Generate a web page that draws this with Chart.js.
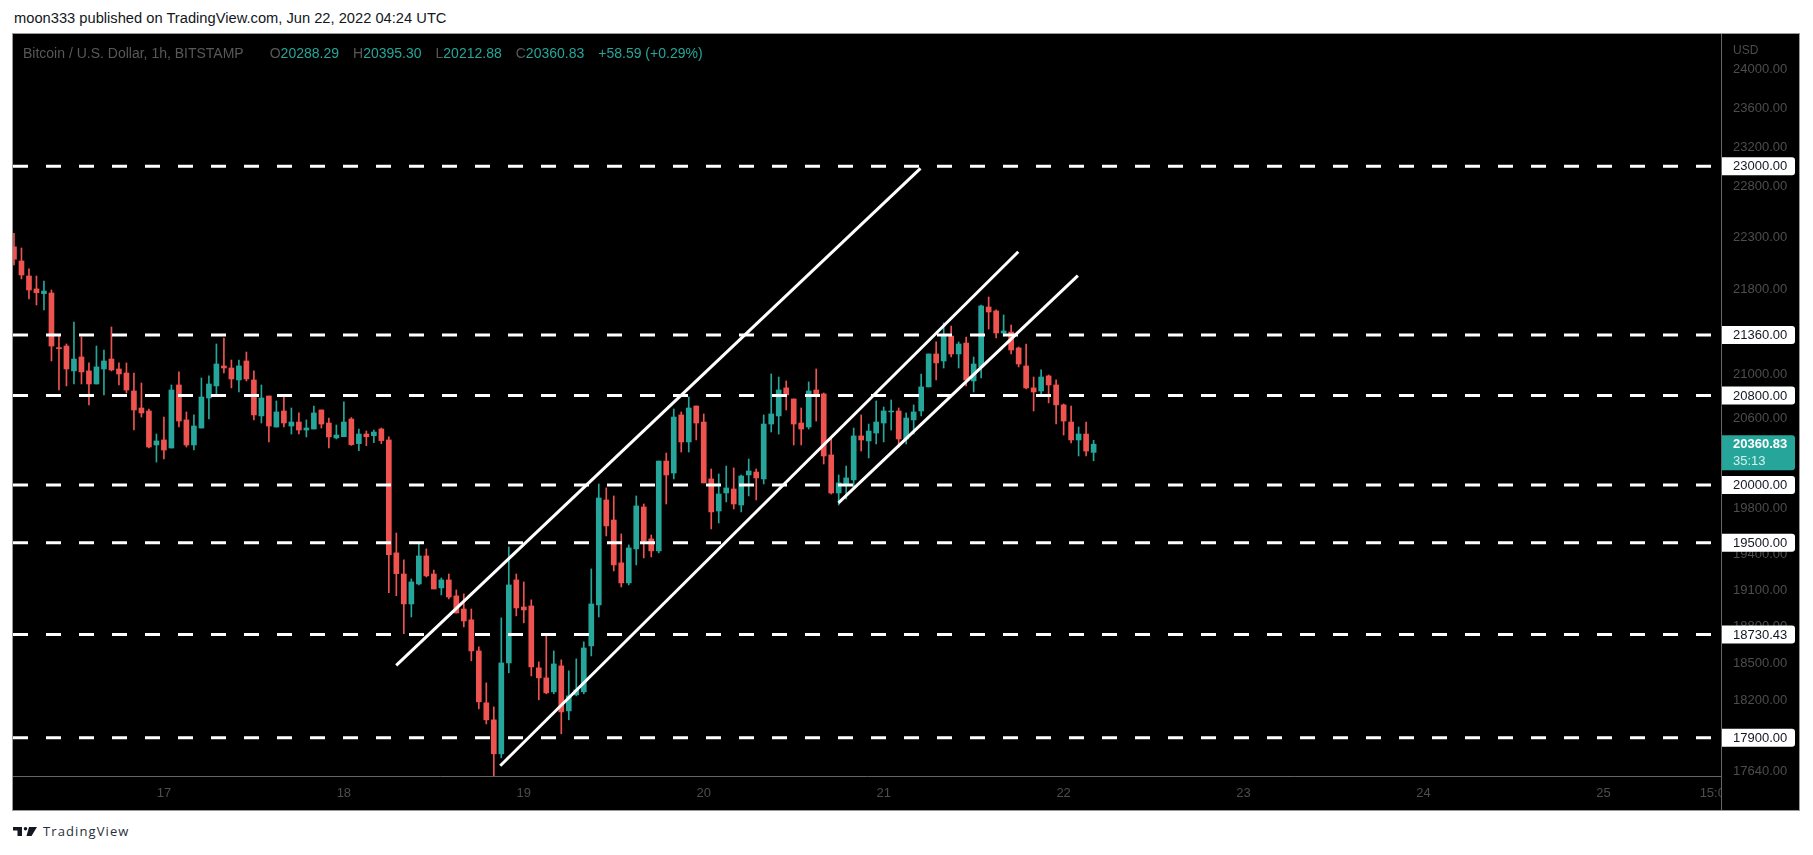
<!DOCTYPE html>
<html>
<head>
<meta charset="utf-8">
<script src="https://cdn.jsdelivr.net/npm/chart.js@4.4.0/dist/chart.umd.min.js"></script>
<style>
  html, body { margin: 0; padding: 0; background: #fff; width: 1813px; height: 855px; overflow: hidden;
    font-family: "Liberation Sans", Arial, sans-serif; }
  #head { position: absolute; left: 14px; top: 10px; font-size: 14.7px; color: #131722; white-space: nowrap; }
  #box { position: absolute; left: 12px; top: 33px; width: 1786px; height: 776px; border: 1px solid #9a9a9a; background: #000; }
  #box canvas { display: block; }
  #legend { position: absolute; left: 23px; top: 45px; font-size: 14px; color: #585858; white-space: nowrap; }
  #legend .v { color: #26a69a; }
  #legend .g { margin-left: 14px; }
  #legend .g0 { margin-left: 26px; }
  #foot { position: absolute; left: 13px; top: 823px; height: 16px; display: flex; align-items: center; }
  #foot span { font-family: "Open Sans", sans-serif; font-size: 13px; letter-spacing: 1.1px; color: #2a2e39; margin-left: 6px; }
</style>
</head>
<body>
<div id="head">moon333 published on TradingView.com, Jun 22, 2022 04:24 UTC</div>
<div id="box"><canvas id="btc" width="1786" height="776"></canvas></div>
<div id="legend">Bitcoin / U.S. Dollar, 1h, BITSTAMP<span class="g0">O<span class="v">20288.29</span></span><span class="g">H<span class="v">20395.30</span></span><span class="g">L<span class="v">20212.88</span></span><span class="g">C<span class="v">20360.83</span></span><span class="g v">+58.59 (+0.29%)</span></div>
<div id="foot">
  <svg width="24" height="9" viewBox="0 0 24 9">
    <rect x="0" y="0" width="9" height="3.5" fill="#131722"/>
    <rect x="4.5" y="0" width="4.5" height="9" fill="#131722"/>
    <circle cx="12.5" cy="1.8" r="1.8" fill="#131722"/>
    <polygon points="16,0 24,0 18.5,9 13.5,9" fill="#131722"/>
  </svg>
  <span>TradingView</span>
</div>
<script>
// hourly candles, first one = Jun 16 04:00 (hours counted from Jun 17 00:00)
const firstHour = -20;
const opens = [22203,22065,21920,21796,21751,21757,21242,21257,21026,21155,
  21026,20906,21044,21136,21044,21007,20842,20687,20660,20354,
  20399,20327,20897,20579,20354,20506,20778,20888,21072,21053,
  20943,21118,20943,20615,20796,20515,20660,20524,20560,20488,
  20497,20669,20551,20417,20428,20587,20366,20452,20437,20497,
  20399,19413,19234,18983,19150,19387,19234,19117,19184,19050,
  18941,18851,18596,18177,18042,17775,18498,19184,18958,18966,
  18458,18377,18265,18474,18113,18241,18265,18637,18975,19869,
  19695,19328,19159,19447,19808,19532,19430,20211,20105,20624,
  20381,20705,20560,20053,19773,19930,19965,19825,20088,20114,
  20053,20542,20615,20870,20769,20551,20515,20851,20815,20265,
  19930,20009,20044,20435,20390,20461,20551,20651,20660,20408,
  20579,20660,20879,21183,21118,21350,21183,21285,20934,21063,
  21624,21587,21379,21388,21239,21072,20870,20842,20980,20897,
  20715,20560,20399,20452,20288.29];
const highs = [22335,22191,21988,21920,21872,21786,21353,21276,21482,21341,
  21100,21257,21220,21435,21100,21100,21007,20915,20678,20452,
  20605,20897,21017,20651,20624,20961,20980,21276,21332,21127,
  21127,21201,21026,20897,20796,20751,20796,20687,20642,20579,
  20705,20669,20596,20533,20742,20600,20497,20479,20488,20506,
  20426,19583,19353,19192,19506,19447,19268,19201,19234,19100,
  19067,18941,18629,18337,18145,18867,19464,19234,19167,19017,
  18506,18735,18596,18523,18434,18531,18670,19277,20009,19974,
  19904,19575,19481,19904,19834,19566,20211,20282,20678,20651,
  20787,20705,20633,20141,20097,20167,20150,20088,20229,20141,
  20624,20998,20970,20934,20769,20687,20925,21044,20824,20426,
  20088,20167,20506,20624,20542,20751,20696,20760,20687,20642,
  20715,20998,21183,21295,21473,21444,21295,21341,21155,21643,
  21719,21596,21549,21454,21248,21276,20970,21035,20989,20943,
  20724,20705,20515,20560,20395.30];
const lows = [22027,21892,21700,21643,21596,21118,20851,20888,20906,20906,
  20715,20906,20806,21026,20897,20824,20488,20605,20327,20202,
  20229,20327,20515,20336,20309,20506,20587,20806,21007,20870,
  20833,20934,20579,20551,20381,20515,20515,20452,20452,20426,
  20497,20506,20327,20408,20428,20350,20303,20348,20375,20366,
  19077,19052,18738,18875,19142,19209,19108,19058,19025,18908,
  18793,18515,18129,18010,17600,17744,18418,18884,18826,18393,
  18201,18249,18249,17932,18042,18233,18249,18555,18875,19558,
  19260,19125,19142,19311,19370,19379,19413,19834,20053,20291,
  20291,20399,20018,19618,19669,19852,19791,19765,19904,19869,
  20009,20470,20452,20669,20354,20354,20497,20569,20185,19921,
  19825,19878,19982,20300,20238,20363,20381,20488,20336,20363,
  20452,20615,20879,20943,21053,21155,21053,20888,20833,20961,
  21416,21332,21350,21183,21063,20860,20660,20815,20733,20542,
  20443,20372,20256,20256,20212.88];
const closes = [22082,21930,21786,21760,21776,21257,21232,21044,21136,21017,
  20906,21063,21118,21035,20998,20851,20669,20642,20336,20390,
  20309,20851,20569,20354,20524,20787,20906,21090,21053,20952,
  21072,20952,20624,20778,20524,20651,20551,20560,20488,20506,
  20642,20542,20426,20443,20560,20357,20452,20428,20470,20393,
  19398,19237,18983,19167,19387,19218,19108,19184,19041,18908,
  18842,18596,18185,18042,17775,18498,19142,18950,18933,18466,
  18377,18257,18490,18105,18233,18281,18620,18983,19886,19644,
  19311,19159,19455,19817,19515,19430,20211,20088,20605,20381,
  20687,20551,20018,19765,19921,19974,19834,20079,20123,20062,
  20542,20633,20851,20806,20542,20497,20842,20806,20256,19930,
  20018,20062,20435,20399,20479,20560,20660,20660,20408,20596,
  20651,20879,21183,21100,21350,21183,21276,20943,21090,21634,
  21577,21379,21398,21220,21090,20870,20833,20970,20897,20715,
  20569,20399,20452,20300,20360.83];

// horizontal support / resistance levels
const levels = [23000, 21360, 20800, 20000, 19500, 18730.43, 17900];
// the three drawn channel lines: [start, end] in hours and price
const channelHours = [[30.98, 100.91], [44.86, 113.95], [89.97, 121.90]];
const channelPrices = [[18478, 22980], [17682, 22155], [19843, 21923]];

const priceTicks = [24000, 23600, 23200, 22800, 22300, 21800, 21000, 20600, 19800, 19400, 19100, 18800, 18500, 18200, 17640];
const timeTicks = [0, 24, 48, 72, 96, 120, 144, 168, 192, 207];
const timeLabels = ['17', '18', '19', '20', '21', '22', '23', '24', '25', '15:00'];
const lastPrice = 20360.83;
const countdown = '35:13';

const xMin = -20.13, xMax = 207.68;
const yMin = 17603, yMax = 24375;

const upColor = '#26a69a', downColor = '#ef5350';
const textGray = '#4d4d4d', axisGray = '#666666';
const font = '"Liberation Sans", Arial, sans-serif';

const candleHours = opens.map((_, i) => firstHour + i);
const bodies = opens.map((o, i) => ({ x: candleHours[i], y: [o, closes[i]] }));
const wicks = lows.map((l, i) => ({ x: candleHours[i], y: [l, highs[i]] }));
const candleColor = c => closes[c.dataIndex] >= opens[c.dataIndex] ? upColor : downColor;

const levelSets = levels.map(v => ({
  type: 'line',
  data: [{ x: xMin, y: v }, { x: xMax, y: v }],
  borderColor: '#ffffff', borderWidth: 3, borderDash: [15, 18],
  pointRadius: 0, pointHoverRadius: 0, order: 2
}));
const channelSets = channelHours.map((h, k) => ({
  type: 'line',
  data: [{ x: h[0], y: channelPrices[k][0] }, { x: h[1], y: channelPrices[k][1] }],
  borderColor: '#ffffff', borderWidth: 3, pointRadius: 0, pointHoverRadius: 0, order: 1
}));

// price scale labels, level tags and the last price tag
const priceScale = {
  id: 'priceScale',
  afterDraw(chart) {
    const { ctx, chartArea: a, scales: { y } } = chart;
    const tx = a.right + 12;
    ctx.save();
    // hide the part of the time axis under the price scale
    ctx.fillStyle = '#000';
    ctx.fillRect(a.right + 1, a.bottom + 1, chart.width - a.right, chart.height - a.bottom);
    ctx.strokeStyle = axisGray;
    ctx.lineWidth = 1;
    ctx.beginPath();
    ctx.moveTo(a.right + 0.5, a.bottom);
    ctx.lineTo(a.right + 0.5, chart.height);
    ctx.stroke();

    ctx.textBaseline = 'middle';
    ctx.textAlign = 'left';
    ctx.fillStyle = textGray;
    ctx.font = '12px ' + font;
    ctx.fillText('USD', tx, a.top + 17);
    ctx.font = '13px ' + font;
    priceTicks.forEach(v => ctx.fillText(v.toFixed(2), tx, y.getPixelForValue(v) + 0.5));

    const bx = a.right + 1, bw = 73;
    levels.forEach(v => {
      const py = y.getPixelForValue(v);
      ctx.fillStyle = '#ffffff';
      ctx.beginPath();
      ctx.roundRect(bx, py - 9, bw, 18, [0, 3, 3, 0]);
      ctx.fill();
      ctx.fillStyle = '#131722';
      ctx.fillText(v.toFixed(2), tx, py + 0.5);
    });

    const py = y.getPixelForValue(lastPrice);
    ctx.fillStyle = upColor;
    ctx.beginPath();
    ctx.roundRect(bx, py - 9, bw, 35, [0, 3, 3, 0]);
    ctx.fill();
    ctx.fillStyle = '#ffffff';
    ctx.font = 'bold 13px ' + font;
    ctx.fillText(lastPrice.toFixed(2), tx, py + 0.5);
    ctx.font = '13px ' + font;
    ctx.fillStyle = '#d6f1ee';
    ctx.fillText(countdown, tx, py + 17);
    ctx.restore();
  }
};

new Chart(document.getElementById('btc'), {
  type: 'bar',
  data: {
    datasets: [
      { data: wicks, backgroundColor: candleColor, grouped: false, barThickness: 1, maxBarThickness: 1, order: 4 },
      { data: bodies, backgroundColor: candleColor, grouped: false, barThickness: 5, maxBarThickness: 5, minBarLength: 1, order: 3 },
      ...levelSets,
      ...channelSets
    ]
  },
  options: {
    responsive: false,
    animation: false,
    layout: { padding: 0, autoPadding: false },
    plugins: { legend: { display: false }, tooltip: { enabled: false } },
    scales: {
      x: {
        type: 'linear', min: xMin, max: xMax, offset: false,
        grid: { display: false, drawTicks: false, offset: false },
        border: { display: true, color: axisGray },
        afterBuildTicks: s => { s.ticks = timeTicks.map(v => ({ value: v })); },
        afterFit: s => { s.height = 34; },
        ticks: {
          autoSkip: false, maxRotation: 0, padding: 10,
          color: textGray, font: { size: 13, family: font },
          callback: v => timeLabels[timeTicks.indexOf(v)]
        }
      },
      y: {
        type: 'logarithmic', position: 'right', min: yMin, max: yMax,
        grid: { display: false, drawTicks: false },
        border: { display: true, color: axisGray },
        afterFit: s => { s.width = 78; },
        ticks: { display: false }
      }
    }
  },
  plugins: [priceScale]
});
</script>
</body>
</html>
